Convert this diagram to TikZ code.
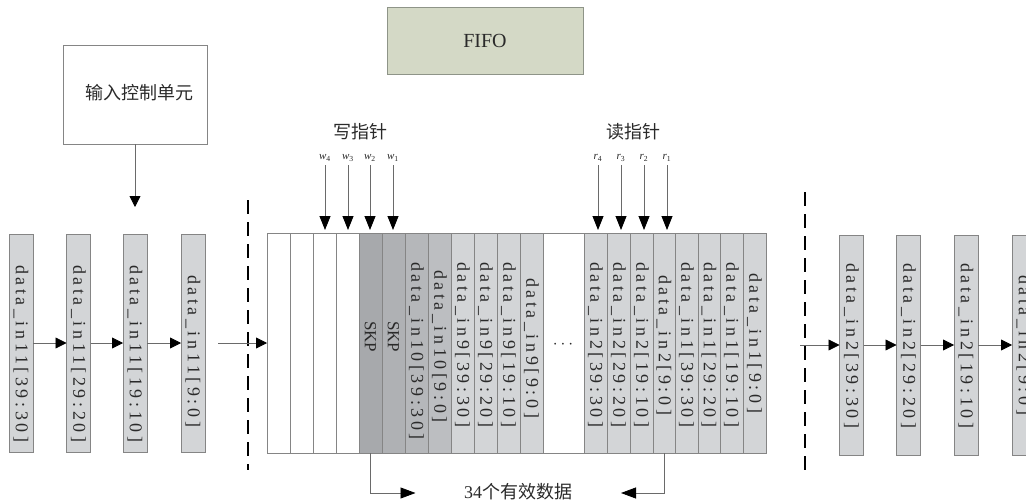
\documentclass[tikz,border=0pt]{standalone}
\usepackage{fontspec}
\setmainfont{Liberation Serif}
\newfontfamily\cjk{Noto Sans CJK SC}
\newfontfamily\spc[LetterSpace=20]{Liberation Serif}
\usetikzlibrary{arrows.meta}
\definecolor{linegray}{HTML}{6A6A6A}
\definecolor{bordergray}{HTML}{858585}
\definecolor{cellgray}{HTML}{D3D5D7}
\definecolor{skpA}{HTML}{A7A9AC}
\definecolor{skpB}{HTML}{AFB1B4}
\definecolor{dtenA}{HTML}{B5B7BA}
\definecolor{dtenB}{HTML}{BCBEC1}
\definecolor{fifofill}{HTML}{D4D9C6}
\definecolor{fifoborder}{HTML}{8E9488}
\definecolor{txtcol}{HTML}{2A2A2A}
\tikzset{
  every node/.style={inner sep=0pt, outer sep=0pt},
  blk/.style={draw=bordergray, fill=cellgray, line width=0.8pt, minimum width=24pt},
  cellbox/.style={draw=bordergray, line width=0.8pt, minimum height=220pt},
  vtxt/.style={rotate=-90, anchor=west, text=txtcol, font=\spc\fontsize{18}{18}\selectfont},
  skptxt/.style={rotate=-90, anchor=west, text=txtcol, font=\fontsize{17}{17}\selectfont},
  conn/.style={draw=linegray, line width=0.8pt, -{Triangle[length=11pt,width=11pt,color=black]}},
  ptr/.style={draw=linegray, line width=0.8pt, -{Triangle[length=14pt,width=11pt,color=black]}},
  dimarrow/.style={draw=linegray, line width=0.8pt, -{Triangle[length=15pt,width=11pt,color=black]}},
  dashline/.style={line width=2.6pt, dash pattern=on 14pt off 8pt},
  ptrlabel/.style={text=txtcol, font=\fontsize{11}{11}\selectfont},
  cjklabel/.style={text=txtcol, font=\cjk\fontsize{18}{18}\selectfont},
}
\begin{document}
\begin{tikzpicture}[x=1pt,y=-1pt]
\clip (0,0) rectangle (1026,503);
\fill[white] (0,0) rectangle (1026,503);

% FIFO title box
\node[draw=fifoborder, fill=fifofill, line width=0.8pt, minimum width=196pt, minimum height=67pt,
      font=\fontsize{20}{20}\selectfont, text=txtcol] (fifo) at (485,40.5) {FIFO};

% input control unit
\node[draw=bordergray, line width=0.8pt, minimum width=144pt, minimum height=99pt] (ctrl) at (135,94.5) {};
\node[cjklabel] (ctrltxt) at (139,93) {输入控制单元};

% left input blocks
\node[blk, minimum height=218pt] (L1) at (21,343) {};
\node[blk, minimum height=218pt] (L2) at (78.5,343) {};
\node[blk, minimum height=218pt] (L3) at (135,343) {};
\node[blk, minimum height=218pt] (L4) at (193,343) {};
\node[vtxt] (L1t) at (21,265) {data\_in11[39:30]};
\node[vtxt] (L2t) at (78.5,265) {data\_in11[29:20]};
\node[vtxt] (L3t) at (135,265) {data\_in11[19:10]};
\node[vtxt] (L4t) at (193,275) {data\_in11[9:0]};

\draw[conn, shorten >=27pt] (ctrl.south) -- (L3.north);
\draw[conn] (L1.east) -- (L2.west);
\draw[conn] (L2.east) -- (L3.west);
\draw[conn] (L3.east) -- (L4.west);

% FIFO cells
\foreach \a/\b/\f [count=\i] in {
  267/290/white, 290/313/white, 313/336/white, 336/359/white,
  359/382/skpA, 382/405/skpB, 405/428/dtenA, 428/451/dtenB,
  451/474/cellgray, 474/497/cellgray, 497/520/cellgray, 520/543/cellgray,
  584/607/cellgray, 607/630/cellgray, 630/653/cellgray, 653/675/cellgray,
  675/698/cellgray, 698/720/cellgray, 720/743/cellgray, 743/766/cellgray}
{
  \node[cellbox, fill=\f, minimum width={\b-\a}] (c\i) at ({(\a+\b)/2},343) {};
}
\node[draw=bordergray, line width=0.8pt, minimum width=499pt, minimum height=220pt] (F) at (516.5,343) {};
\node[text=txtcol, font=\fontsize{16}{16}\selectfont] (dots) at (563,345) {$\cdots$};

\node[skptxt] (t5) at (370.5,321) {SKP};
\node[skptxt] (t6) at (393.5,321) {SKP};
\node[vtxt] (t7) at (416.5,262) {data\_in10[39:30]};
\node[vtxt] (t8) at (439.5,270) {data\_in10[9:0]};
\node[vtxt] (t9) at (462.5,262) {data\_in9[39:30]};
\node[vtxt] (t10) at (485.5,262) {data\_in9[29:20]};
\node[vtxt] (t11) at (508.5,262) {data\_in9[19:10]};
\node[vtxt] (t12) at (531.5,278) {data\_in9[9:0]};
\node[vtxt] (t13) at (595.5,262) {data\_in2[39:30]};
\node[vtxt] (t14) at (618.5,262) {data\_in2[29:20]};
\node[vtxt] (t15) at (641.5,262) {data\_in2[19:10]};
\node[vtxt] (t16) at (664,275) {data\_in2[9:0]};
\node[vtxt] (t17) at (686.5,262) {data\_in1[39:30]};
\node[vtxt] (t18) at (709,262) {data\_in1[29:20]};
\node[vtxt] (t19) at (731.5,262) {data\_in1[19:10]};
\node[vtxt] (t20) at (754.5,273) {data\_in1[9:0]};

% write pointers
\node[cjklabel] (wp) at (360,132) {写指针};
\node[ptrlabel] (w4) at (325,158) {\textit{w}\textsubscript{4}};
\node[ptrlabel] (w3) at (348,158) {\textit{w}\textsubscript{3}};
\node[ptrlabel] (w2) at (370,158) {\textit{w}\textsubscript{2}};
\node[ptrlabel] (w1) at (393,158) {\textit{w}\textsubscript{1}};
\draw[ptr, shorten <=4pt, shorten >=3pt] (w4.south) -- (w4.south |- c3.north);
\draw[ptr, shorten <=4pt, shorten >=3pt] (w3.south) -- (w3.south |- c4.north);
\draw[ptr, shorten <=4pt, shorten >=3pt] (w2.south) -- (w2.south |- c5.north);
\draw[ptr, shorten <=4pt, shorten >=3pt] (w1.south) -- (w1.south |- c6.north);

% read pointers
\node[cjklabel] (rp) at (633,132) {读指针};
\node[ptrlabel] (r4) at (598,158) {\textit{r}\textsubscript{4}};
\node[ptrlabel] (r3) at (621,158) {\textit{r}\textsubscript{3}};
\node[ptrlabel] (r2) at (644,158) {\textit{r}\textsubscript{2}};
\node[ptrlabel] (r1) at (667,158) {\textit{r}\textsubscript{1}};
\draw[ptr, shorten <=4pt, shorten >=3pt] (r4.south) -- (r4.south |- c13.north);
\draw[ptr, shorten <=4pt, shorten >=3pt] (r3.south) -- (r3.south |- c14.north);
\draw[ptr, shorten <=4pt, shorten >=3pt] (r2.south) -- (r2.south |- c15.north);
\draw[ptr, shorten <=4pt, shorten >=3pt] (r1.south) -- (r1.south |- c16.north);

% dashed separators
\draw[dashline] (248,200) -- (248,470);
\draw[dashline] (805,192) -- (805,470);

% input / output arrows
\coordinate (inL) at (218,343);
\draw[conn] (inL) -- (F.west);
\coordinate (outR) at (800,345);

% right output blocks
\node[blk, minimum height=220pt] (R1) at (851.5,345) {};
\node[blk, minimum height=220pt] (R2) at (908.5,345) {};
\node[blk, minimum height=220pt] (R3) at (966,345) {};
\node[blk, minimum height=220pt] (R4) at (1024,345) {};
\node[vtxt] (R1t) at (851.5,263) {data\_in2[39:30]};
\node[vtxt] (R2t) at (908.5,263) {data\_in2[29:20]};
\node[vtxt] (R3t) at (966,263) {data\_in2[19:10]};
\node[vtxt] (R4t) at (1024,275) {data\_in2[9:0]};
\draw[conn] (outR) -- (R1.west);
\draw[conn] (R1.east) -- (R2.west);
\draw[conn] (R2.east) -- (R3.west);
\draw[conn] (R3.east) -- (R4.west);

% valid data span
\draw[dimarrow] (c5.south) -- ++(0,40) -- ++(45,0);
\draw[dimarrow] (c16.south) -- ++(0,40) -- ++(-43,0);
\node[text=txtcol, font=\fontsize{18}{18}\selectfont] (span) at (518,492) {34{\cjk 个有效数据}};
\end{tikzpicture}
\end{document}
